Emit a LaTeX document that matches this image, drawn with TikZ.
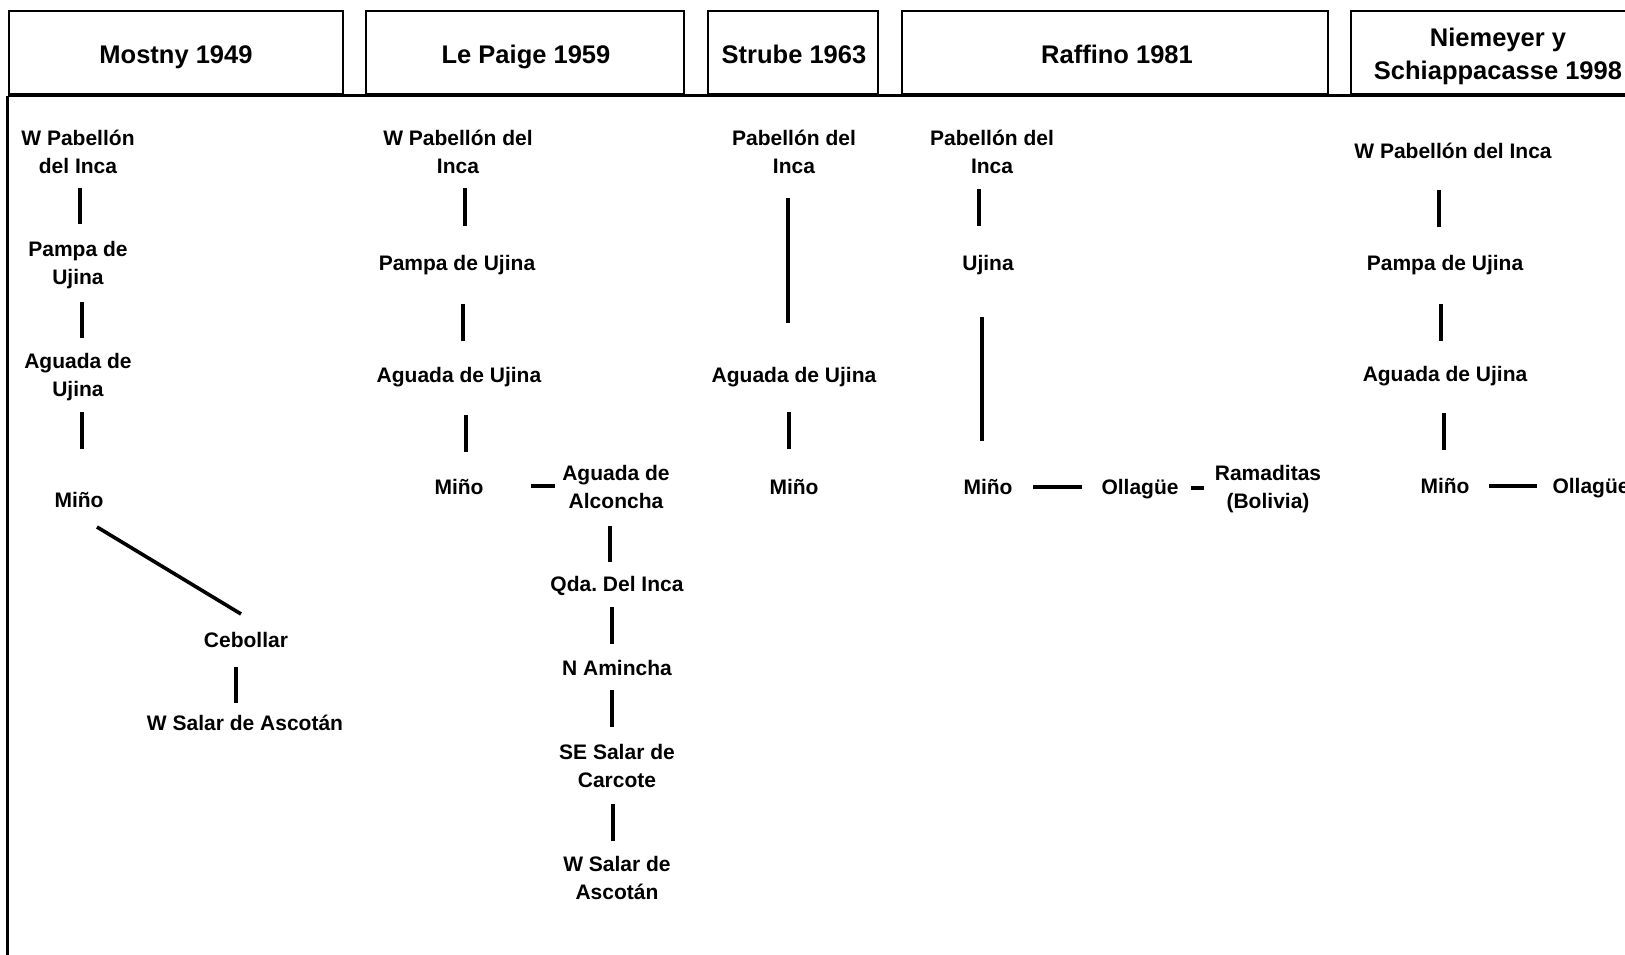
\documentclass[tikz,border=0pt]{standalone}
\usepackage{fontspec}
\setmainfont{Liberation Sans}
\usetikzlibrary{calc}
\frenchspacing
\tikzset{
  frame/.style={draw=black, line width=2.8pt},
  hbox/.style={frame, rectangle, inner sep=0pt},
  htitle/.style={font=\fontsize{25.5}{33}\selectfont\bfseries, align=center, inner sep=0pt},
  site/.style={font=\fontsize{21}{28}\selectfont\bfseries, align=center, inner sep=0pt},
  link/.style={draw=black, line width=3.6pt},
}
\begin{document}
\begin{tikzpicture}[x=1pt, y=-1pt]
\useasboundingbox (0,0) rectangle (1625,955);
\clip (0,0) rectangle (1625,955);
\fill[white] (0,0) rectangle (1625,955);

% header boxes
\node[hbox, minimum width=334pt, minimum height=83.5pt] (h1) at (176,52.75) {};
\node[hbox, minimum width=318pt, minimum height=83.5pt] (h2) at (525,52.75) {};
\node[hbox, minimum width=170pt, minimum height=83.5pt] (h3) at (793,52.75) {};
\node[hbox, minimum width=426pt, minimum height=83.5pt] (h4) at (1115,52.75) {};
\node[hbox, minimum width=349pt, minimum height=83.5pt] (h5) at (1525.5,52.75) {};
\draw[frame] (h1.south west) -- (h5.south east);
\draw[frame] (h1.south west) -- ++(0,880);

% header titles
\node[htitle] (t1) at (176,56.5) {\strut Mostny 1949};
\node[htitle] (t2) at (526,56.5) {\strut Le Paige 1959};
\node[htitle] (t3) at (794,56.5) {\strut Strube 1963};
\node[htitle] (t4) at (1117,56.5) {\strut Raffino 1981};
\node[htitle] (t5) at (1498,56.5) {\strut Niemeyer y\\\strut Schiappacasse 1998};

% Mostny 1949
\node[site] (m1) at (78,153.5) {\strut W Pabellón\\\strut del Inca};
\node[site] (m2) at (78,265) {\strut Pampa de\\\strut Ujina};
\node[site] (m3) at (78,377) {\strut Aguada de\\\strut Ujina};
\node[site] (m4) at (79,502) {\strut Miño};
\node[site] (m5) at (246,642) {\strut Cebollar};
\node[site] (m6) at (245,725) {\strut W Salar de Ascotán};
\draw[link] ($(m1.center)+(2,34.5)$) -- ($(m2.center)+(2,-41)$);
\draw[link] ($(m2.center)+(4,37)$) -- ($(m3.center)+(4,-39)$);
\draw[link] ($(m3.center)+(4,35)$) -- ($(m4.center)+(3,-53)$);
\draw[link] ($(m4.center)+(18,25)$) -- ($(m5.center)+(-5,-28)$);
\draw[link] ($(m5.center)+(-10,25)$) -- ($(m6.center)+(-9,-22)$);

% Le Paige 1959
\node[site] (p1) at (458,154) {\strut W Pabellón del\\\strut Inca};
\node[site] (p2) at (457,265) {\strut Pampa de Ujina};
\node[site] (p3) at (459,377) {\strut Aguada de Ujina};
\node[site] (p4) at (459,489) {\strut Miño};
\node[site] (p5) at (616,489) {\strut Aguada de\\\strut Alconcha};
\node[site] (p6) at (617,586) {\strut Qda. Del Inca};
\node[site] (p7) at (617,670) {\strut N Amincha};
\node[site] (p8) at (617,768) {\strut SE Salar de\\\strut Carcote};
\node[site] (p9) at (617,879.5) {\strut W Salar de\\\strut Ascotán};
\draw[link] ($(p1.center)+(7,34)$) -- ($(p2.center)+(8,-39)$);
\draw[link] ($(p2.center)+(6,39)$) -- ($(p3.center)+(4,-36)$);
\draw[link] ($(p3.center)+(7,38)$) -- ($(p4.center)+(7,-37)$);
\draw[link] ($(p4.center)+(72,-3)$) -- ($(p5.center)+(-61,-3)$);
\draw[link] ($(p5.center)+(-6,37)$) -- ($(p6.center)+(-7,-24)$);
\draw[link] ($(p6.center)+(-5,21)$) -- ($(p7.center)+(-5,-26)$);
\draw[link] ($(p7.center)+(-5,20)$) -- ($(p8.center)+(-5,-41)$);
\draw[link] ($(p8.center)+(-4,36)$) -- ($(p9.center)+(-4,-38.5)$);

% Strube 1963
\node[site] (s1) at (794,154) {\strut Pabellón del\\\strut Inca};
\node[site] (s2) at (794,377) {\strut Aguada de Ujina};
\node[site] (s3) at (794,489) {\strut Miño};
\draw[link] ($(s1.center)+(-6,44)$) -- ($(s2.center)+(-6,-54)$);
\draw[link] ($(s2.center)+(-5,35)$) -- ($(s3.center)+(-5,-40)$);

% Raffino 1981
\node[site] (r1) at (992,154) {\strut Pabellón del\\\strut Inca};
\node[site] (r2) at (988,265) {\strut Ujina};
\node[site] (r3) at (988,489) {\strut Miño};
\node[site] (r4) at (1140,489) {\strut Ollagüe};
\node[site] (r5) at (1268,489) {\strut Ramaditas\\\strut (Bolivia)};
\draw[link] ($(r1.center)+(-13,35)$) -- ($(r2.center)+(-9,-39)$);
\draw[link] ($(r2.center)+(-6,52)$) -- ($(r3.center)+(-6,-48)$);
\draw[link] ($(r3.center)+(45,-2)$) -- ($(r4.center)+(-58,-2)$);
\draw[link] ($(r4.center)+(51,-1)$) -- ($(r5.center)+(-64,-1)$);

% Niemeyer y Schiappacasse 1998
\node[site] (n1) at (1453,153) {\strut W Pabellón del Inca};
\node[site] (n2) at (1445,265) {\strut Pampa de Ujina};
\node[site] (n3) at (1445,376) {\strut Aguada de Ujina};
\node[site] (n4) at (1445,488) {\strut Miño};
\node[site] (n5) at (1591,488) {\strut Ollagüe};
\draw[link] ($(n1.center)+(-14,37)$) -- ($(n2.center)+(-6,-38)$);
\draw[link] ($(n2.center)+(-4,39)$) -- ($(n3.center)+(-4,-35)$);
\draw[link] ($(n3.center)+(-1,37)$) -- ($(n4.center)+(-1,-38)$);
\draw[link] ($(n4.center)+(44,-2)$) -- ($(n5.center)+(-54,-2)$);
\end{tikzpicture}
\end{document}
